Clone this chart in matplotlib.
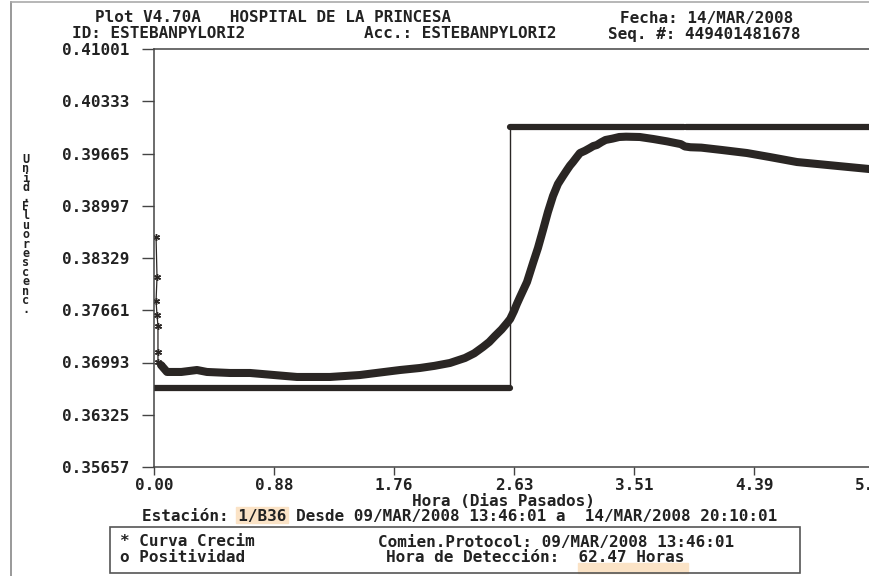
import matplotlib
matplotlib.use("Agg")
import matplotlib.pyplot as plt
from matplotlib.lines import Line2D
from matplotlib.patches import Rectangle

# curva de crecimiento (dias pasados, unid. fluorescencia)
dias = [0.051, 0.095, 0.20, 0.314, 0.387, 0.555, 0.702, 1.045, 1.286, 1.505,
        1.798, 1.944, 2.05, 2.163, 2.273, 2.34, 2.404, 2.45, 2.492, 2.54,
        2.580, 2.603, 2.631, 2.652, 2.675, 2.726, 2.770, 2.806, 2.843, 2.879,
        2.916, 2.952, 2.989, 3.018, 3.04, 3.062, 3.09, 3.113, 3.15, 3.186,
        3.21, 3.237, 3.27, 3.30, 3.35, 3.40, 3.45, 3.55, 3.65, 3.75,
        3.85, 3.88, 3.92, 4.00, 4.15, 4.334, 4.50, 4.699, 5.00, 5.225, 5.40]
fluor = [0.36961, 0.36872, 0.36872, 0.36897, 0.36872, 0.36859, 0.36859, 0.36808, 0.36808, 0.36833,
         0.36897, 0.36923, 0.36950, 0.36987, 0.37051, 0.37110, 0.37191, 0.37255, 0.37332, 0.37415,
         0.37498, 0.37549, 0.37651, 0.37741, 0.37830, 0.38022, 0.38265, 0.38457, 0.38687, 0.38917,
         0.39122, 0.39275, 0.39377, 0.39454, 0.39510, 0.39556, 0.39620, 0.39671, 0.39700, 0.39735,
         0.39760, 0.39774, 0.39810, 0.39838, 0.39855, 0.39876, 0.39880, 0.39876, 0.39850, 0.39820,
         0.39785, 0.39755, 0.39745, 0.39740, 0.39710, 0.39671, 0.39620, 0.39556, 0.39505, 0.39467, 0.39440]

# primeras lecturas (pico inicial)
dias_ini = [0.015, 0.022, 0.015, 0.022, 0.029, 0.029, 0.029, 0.051]
fluor_ini = [0.38597, 0.38086, 0.37779, 0.37600, 0.37460, 0.37127, 0.37000, 0.36961]

# positividad
pos_bajo = 0.36667
pos_alto = 0.40004
t_deteccion = 2.603
hueco = (3.87, 3.89)

x_ticks = [0.0, 0.877, 1.754, 2.632, 3.509, 4.386, 5.263]
x_labels = ["0.00", "0.88", "1.76", "2.63", "3.51", "4.39", "5.26"]
y_ticks = [0.35657, 0.36325, 0.36993, 0.37661, 0.38329, 0.38997, 0.39665, 0.40333, 0.41001]
y_labels = ["%.5f" % v for v in y_ticks]

W, H = 869, 576
ink = "#2a2624"
fs = 11.5
paso = 0.6021 * fs * 100 / 72   # ancho de un caracter en px
mono = dict(family="DejaVu Sans Mono", weight="bold", color="#222222")
resalte = "#fbe3c6"


def fx(x):
    return x / W


def fy(y):
    return 1 - y / H


fig = plt.figure(figsize=(W / 100, H / 100), dpi=100)

xmax = 5.6
px_dia = 120 / 0.877
ax = fig.add_axes([fx(154), fy(467), xmax * px_dia / W, (467 - 49) / H])

# positividad
ax.plot([0, t_deteccion], [pos_bajo, pos_bajo], lw=4.5, color=ink, solid_capstyle="round")
ax.plot([t_deteccion, t_deteccion], [pos_bajo, pos_alto], lw=1.0, color=ink)
ax.plot([t_deteccion, hueco[0]], [pos_alto, pos_alto], lw=4.5, color=ink, solid_capstyle="round")
ax.plot([hueco[1], xmax], [pos_alto, pos_alto], lw=4.5, color=ink, solid_capstyle="round")

# curva crecim
ax.plot(dias_ini, fluor_ini, lw=0.9, color=ink, marker=(6, 2, 0), ms=5, mew=1)
ax.plot(dias, fluor, lw=5.8, color=ink, solid_capstyle="round", solid_joinstyle="round")

ax.set_xlim(0, xmax)
ax.set_ylim(y_ticks[0], y_ticks[-1])
ax.set_xticks(x_ticks)
ax.set_xticklabels(x_labels, fontsize=fs, **mono)
ax.set_yticks(y_ticks)
ax.set_yticklabels(y_labels, fontsize=fs, **mono)
ax.tick_params(axis="y", direction="out", length=9, width=1, pad=9, color="#444444")
ax.tick_params(axis="x", direction="out", length=6, width=1, pad=2, color="#444444")
for s in ax.spines.values():
    s.set_color("#444444")
    s.set_linewidth(1.1)

# cabecera
fig.text(fx(95), fy(18), "Plot V4.70A   HOSPITAL DE LA PRINCESA", fontsize=fs, va="center", **mono)
fig.text(fx(620), fy(18), "Fecha: 14/MAR/2008", fontsize=fs, va="center", **mono)
fig.text(fx(72), fy(34), "ID: ESTEBANPYLORI2", fontsize=fs, va="center", **mono)
fig.text(fx(364), fy(34), "Acc.: ESTEBANPYLORI2", fontsize=fs, va="center", **mono)
fig.text(fx(608), fy(34), "Seq. #: 449401481678", fontsize=fs, va="center", **mono)

# etiqueta vertical, una letra debajo de otra
ylab = "Unid. Fluorescenc."
fig.text(fx(26), fy(153), "\n".join(c for c in ylab if c != " "), fontsize=8.5,
         ha="center", va="top", linespacing=0.64, multialignment="center", **mono)

# pie
fig.text(fx(503), fy(502), "Hora (Dias Pasados)", fontsize=fs, ha="center", va="center", **mono)
x0 = 142
fig.patches.append(Rectangle((fx(x0 + 10 * paso - 2), fy(523)), (5 * paso + 4) / W, 16 / H,
                             transform=fig.transFigure, color=resalte, zorder=0))
fig.text(fx(x0), fy(516), "Estación: 1/B36 Desde 09/MAR/2008 13:46:01 a  14/MAR/2008 20:10:01",
         fontsize=fs, va="center", **mono)

x1 = 386
fig.patches.append(Rectangle((fx(x1 + 20 * paso), fy(573)), (11 * paso + 4) / W, 10 / H,
                             transform=fig.transFigure, color=resalte, zorder=0))
fig.patches.append(Rectangle((fx(110), fy(573)), (800 - 110) / W, (573 - 527) / H,
                             transform=fig.transFigure, fill=False, edgecolor="#555555", lw=1.2))
fig.text(fx(120), fy(542), "* Curva Crecim", fontsize=fs, va="center", **mono)
fig.text(fx(120), fy(558), "o Positividad", fontsize=fs, va="center", **mono)
fig.text(fx(378), fy(542), "Comien.Protocol: 09/MAR/2008 13:46:01", fontsize=fs, va="center", **mono)
fig.text(fx(x1), fy(558), "Hora de Detección:  62.47 Horas", fontsize=fs, va="center", **mono)

# borde de pagina
fig.lines.append(Line2D([fx(11), fx(11)], [fy(2), 0], transform=fig.transFigure, color="#888888", lw=1.2))
fig.lines.append(Line2D([fx(11), 1], [fy(2), fy(2)], transform=fig.transFigure, color="#aaaaaa", lw=1.2))

fig.savefig("out.png", dpi=100)
